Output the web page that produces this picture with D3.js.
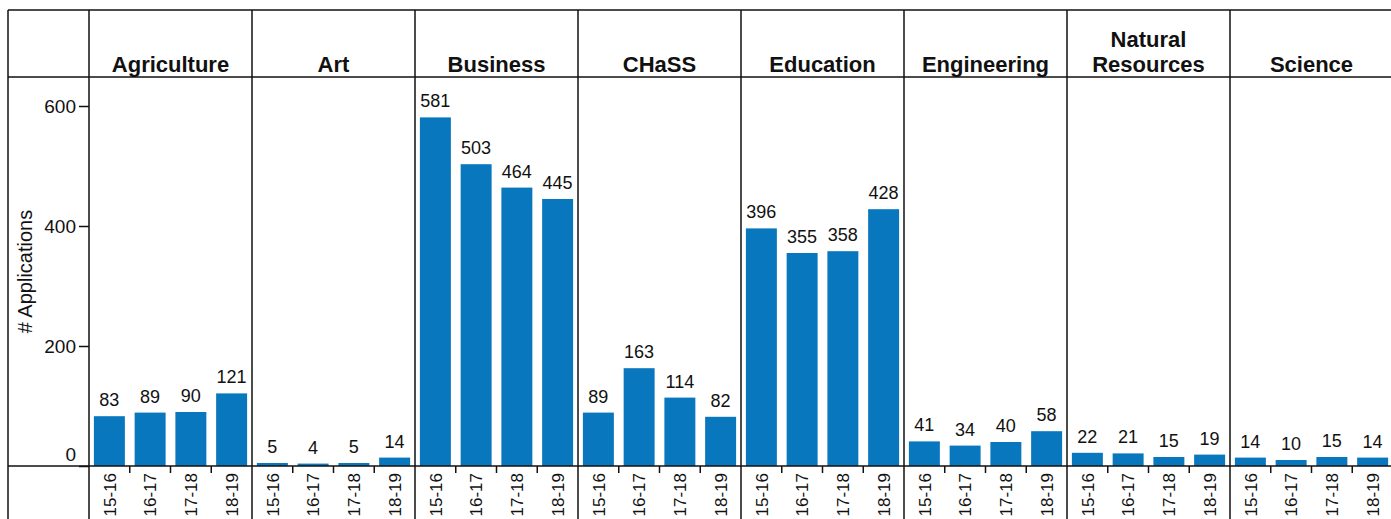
<!DOCTYPE html>
<html><head><meta charset="utf-8">
<script src="https://cdn.jsdelivr.net/npm/d3@7"></script>
<style>body{margin:0;background:#fff}svg{display:block}text{font-family:"Liberation Sans",Arial,sans-serif;fill:#111}</style>
</head><body>
<script>
const colleges = ["Agriculture","Art","Business","CHaSS","Education","Engineering","Natural Resources","Science"];
const years = ["15-16","16-17","17-18","18-19"];
const agriculture = [83,89,90,121];
const art = [5,4,5,14];
const business = [581,503,464,445];
const chass = [89,163,114,82];
const education = [396,355,358,428];
const engineering = [41,34,40,58];
const naturalResources = [22,21,15,19];
const science = [14,10,15,14];
const yTicks = [0,200,400,600];
const seriesValues = [agriculture,art,business,chass,education,engineering,naturalResources,science];

const W=1391,H=519;
const frameLeft=8, frameTop=10, headerBottom=77, axisY=466;
const plotLeft=89, panelW=163;
const svg=d3.select("body").append("svg").attr("width",W).attr("height",H);

const y=d3.scaleLinear().domain([0,600]).range([axisY,106]);
const fx=d3.scaleBand().domain(colleges).range([plotLeft,plotLeft+panelW*colleges.length]).padding(0);
const x=d3.scaleBand().domain(years).range([0,panelW]).paddingInner(0.24).paddingOuter(0.12);
const color="#0877bd";

colleges.forEach((c,i)=>{
  const g=svg.append("g").attr("transform",`translate(${fx(c)},0)`);
  const vals=seriesValues[i];
  g.selectAll("rect").data(years).join("rect")
    .attr("x",d=>x(d)).attr("width",x.bandwidth())
    .attr("y",(d,j)=>y(vals[j])).attr("height",(d,j)=>axisY-y(vals[j]))
    .attr("fill",color);
  g.selectAll("text.val").data(years).join("text").attr("class","val")
    .attr("x",d=>x(d)+x.bandwidth()/2).attr("y",(d,j)=>y(vals[j])-10)
    .attr("text-anchor","middle").attr("font-size",18).text((d,j)=>vals[j]);
  g.selectAll("text.xl").data(years).join("text").attr("class","xl")
    .attr("transform",d=>`translate(${x(d)+x.bandwidth()/2},473) rotate(-90)`)
    .attr("text-anchor","end").attr("dy","0.36em").attr("font-size",17).text(d=>d);
  g.selectAll("line.xt").data(years.slice(1)).join("line").attr("class","xt")
    .attr("x1",d=>x(d)-x.step()*x.paddingInner()/2).attr("x2",d=>x(d)-x.step()*x.paddingInner()/2)
    .attr("y1",axisY).attr("y2",axisY+7).attr("stroke","#111").attr("stroke-width",1.5);
  const words=c.split(" ");
  const hdr=g.append("text").attr("text-anchor","middle").attr("font-size",22).attr("font-weight","bold");
  if(words.length>1){
    hdr.append("tspan").attr("x",panelW/2).attr("y",47).text(words[0]);
    hdr.append("tspan").attr("x",panelW/2).attr("y",72).text(words.slice(1).join(" "));
  } else {
    hdr.append("tspan").attr("x",panelW/2).attr("y",72).text(c);
  }
});

const lc="#111", lw=1.5;
const vx=[frameLeft].concat(colleges.map(c=>fx(c)), [fx(colleges[colleges.length-1])+panelW]);
vx.forEach(v=>svg.append("line").attr("x1",v).attr("x2",v).attr("y1",frameTop).attr("y2",H+5).attr("stroke",lc).attr("stroke-width",lw));
[frameTop,headerBottom,axisY].forEach(h=>svg.append("line").attr("x1",frameLeft).attr("x2",W+5).attr("y1",h).attr("y2",h).attr("stroke",lc).attr("stroke-width",lw));

const ya=svg.append("g").attr("transform",`translate(${plotLeft},0)`)
  .call(d3.axisLeft(y).tickValues(yTicks).tickSize(10).tickPadding(3).tickFormat(d3.format("d")));
ya.select(".domain").remove();
ya.selectAll("line").attr("stroke",lc).attr("stroke-width",lw);
ya.selectAll("text").attr("font-size",19).attr("font-family",'"Liberation Sans",Arial,sans-serif').attr("fill","#111");
ya.selectAll(".tick").filter(d=>d===0).select("text").attr("dy","-0.3em");

svg.append("text").attr("transform",`translate(32,${(headerBottom+axisY)/2}) rotate(-90)`)
  .attr("text-anchor","middle").attr("font-size",20).text("# Applications");
</script>
</body></html>
